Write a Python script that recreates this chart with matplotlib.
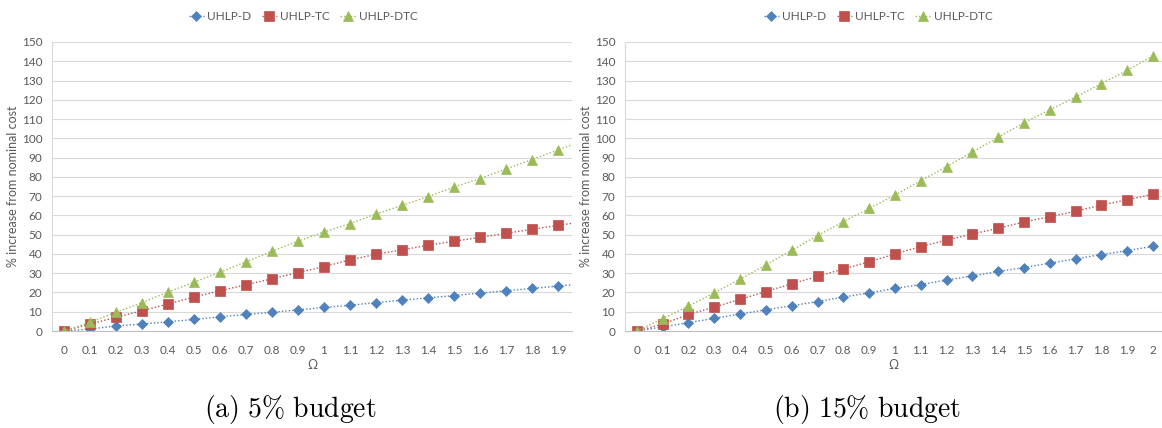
import matplotlib
matplotlib.use('Agg')
import matplotlib.pyplot as plt

plt.rcParams['font.family'] = ['Lato', 'DejaVu Sans']
plt.rcParams['mathtext.fontset'] = 'cm'

# Omega values (left chart also has a point at 2 that is cut off by the right edge)
omega_a = [0, 0.1, 0.2, 0.3, 0.4, 0.5, 0.6, 0.7, 0.8, 0.9, 1.0,
           1.1, 1.2, 1.3, 1.4, 1.5, 1.6, 1.7, 1.8, 1.9, 2.0]
omega_b = [0, 0.1, 0.2, 0.3, 0.4, 0.5, 0.6, 0.7, 0.8, 0.9, 1.0,
           1.1, 1.2, 1.3, 1.4, 1.5, 1.6, 1.7, 1.8, 1.9, 2.0]
ticks_a = ['0', '0.1', '0.2', '0.3', '0.4', '0.5', '0.6', '0.7', '0.8', '0.9', '1',
           '1.1', '1.2', '1.3', '1.4', '1.5', '1.6', '1.7', '1.8', '1.9']
ticks_b = ticks_a + ['2']

# (a) 5% budget
d_a = [0, 1.0, 2.6, 3.6, 4.8, 6.0, 7.4, 8.6, 9.7, 11.0, 12.2,
       13.4, 14.7, 16.0, 17.2, 18.4, 19.7, 20.9, 22.1, 23.3, 24.5]
tc_a = [0, 3.6, 7.1, 10.5, 14.0, 17.6, 20.9, 24.0, 27.1, 30.3, 33.4,
        36.9, 39.8, 42.1, 44.5, 46.6, 48.6, 50.7, 52.8, 54.8, 56.8]
dtc_a = [0, 4.5, 9.7, 14.7, 20.2, 25.3, 30.5, 35.9, 41.4, 46.6, 51.4,
         55.7, 60.7, 65.2, 69.8, 74.7, 79.1, 84.1, 89.0, 94.0, 98.8]

# (b) 15% budget
d_b = [0, 2.1, 4.3, 6.6, 8.8, 11.0, 13.1, 15.3, 17.6, 19.8, 22.1,
       24.1, 26.4, 28.6, 30.9, 32.9, 35.2, 37.4, 39.7, 41.7, 44.0]
tc_b = [0, 3.6, 8.6, 12.4, 16.4, 20.5, 24.5, 28.3, 32.2, 35.9, 40.0,
        43.8, 47.2, 50.3, 53.3, 56.6, 59.3, 62.2, 65.3, 68.1, 71.0]
dtc_b = [0, 6.4, 12.9, 19.8, 26.9, 34.3, 41.9, 49.5, 56.7, 63.6, 70.5,
         78.1, 85.3, 92.9, 100.5, 108.1, 114.8, 121.4, 128.4, 135.3, 142.8]

names = ['UHLP-D', 'UHLP-TC', 'UHLP-DTC']
colors = ['#4F81BD', '#C0504D', '#9BBB59']
markers = ['D', 's', '^']
msizes = [4.8, 6.5, 7.0]
grey = '#595959'

W, H = 1162, 428
fig = plt.figure(figsize=(W / 100, H / 100), dpi=100)

ax_a = fig.add_axes([52 / W, (H - 331) / H, 520 / W, 289 / H])
ax_b = fig.add_axes([625 / W, (H - 331) / H, 537 / W, 289 / H])


def draw(ax, x, series, ticks, xlim, legend_x, caption, caption_x):
    for ys, name, c, m, ms in zip(series, names, colors, markers, msizes):
        ax.plot(x, ys, linestyle=(0, (1, 1.5)), linewidth=1.0, color=c,
                marker=m, markersize=ms, markeredgewidth=0.5,
                markeredgecolor=c, label=name)
    ax.set_xlim(*xlim)
    ax.set_ylim(0, 150)
    ax.set_yticks(range(0, 151, 10))
    ax.set_xticks(x[:len(ticks)])
    ax.set_xticklabels(ticks)
    ax.tick_params(axis='both', length=0, labelsize=8.5, labelcolor=grey)
    ax.tick_params(axis='x', pad=10)
    ax.tick_params(axis='y', pad=7)
    ax.grid(axis='y', color='#D9D9D9', linewidth=0.8)
    ax.set_axisbelow(True)
    for s in ['top', 'right']:
        ax.spines[s].set_visible(False)
    ax.spines['left'].set_color('#D9D9D9')
    ax.spines['bottom'].set_color('#BFBFBF')
    ax.spines['left'].set_linewidth(0.8)
    ax.spines['bottom'].set_linewidth(0.8)
    ax.set_xlabel('Ω', fontsize=9, color=grey, labelpad=2)
    ax.set_ylabel('% increase from nominal cost', fontsize=9, color=grey, labelpad=2)
    ax.legend(loc='center', bbox_to_anchor=(legend_x / W, 1 - 17 / H),
              bbox_transform=fig.transFigure, ncol=3, frameon=False,
              fontsize=8.5, labelcolor=grey, handlelength=1.3,
              handletextpad=0.25, columnspacing=0.9)
    fig.text(caption_x / W, 1 - 410 / H, caption, ha='center', va='center',
             fontsize=20)


draw(ax_a, omega_a, [d_a, tc_a, dtc_a], ticks_a, (-0.046, 1.954), 303,
     r'$\mathrm{(a)\ 5\%\ budget}$', 290)
draw(ax_b, omega_b, [d_b, tc_b, dtc_b], ticks_b, (-0.046, 2.035), 878,
     r'$\mathrm{(b)\ 15\%\ budget}$', 867)

fig.savefig('out.png', dpi=100)
